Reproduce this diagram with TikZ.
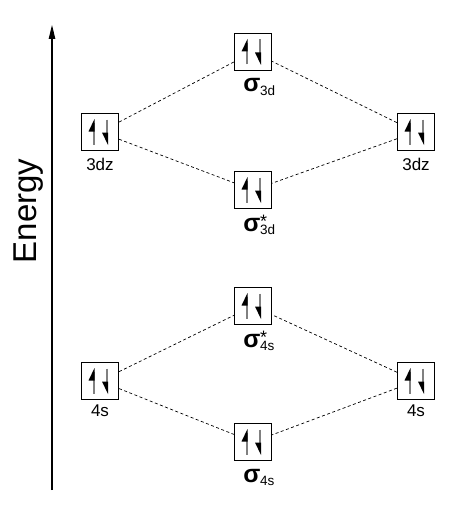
\documentclass[tikz,border=0pt]{standalone}
\usepackage{fontspec}
\setmainfont{Liberation Sans}
\usetikzlibrary{arrows.meta}
\newcommand\molab[2]{{\fontsize{25}{25}\selectfont\bfseries σ}\rlap{\hspace{-0.5pt}\raisebox{-3pt}{\fontsize{13.5}{13.5}\selectfont #1}}\rlap{\hspace{-0.5pt}\raisebox{3.5pt}{\fontsize{18}{18}\selectfont #2}}}
\tikzset{
  orbbox/.style={draw, line width=1.2pt, minimum width=37pt, minimum height=37pt, inner sep=0pt},
  spin/.style={draw=black!50, line width=2pt},
  lvl/.style={dash pattern=on 3pt off 2.5pt, line width=0.7pt},
  ao/.style={font=\fontsize{17}{17}\selectfont, inner sep=0pt},
  mo/.style={anchor=base, inner sep=0pt},
  orbital/.pic={
    \node[orbbox] (-b) at (0,0) {};
    \draw[spin] (-6.5,12.5) -- (-6.5,-9);
    \fill (-5.5,-13) -- (-5.5,-0.5) -- (-11.5,-0.5) -- cycle;
    \draw[spin] (7,-12.5) -- (7,9);
    \fill (8,13) -- (8,0.5) -- (2,0.5) -- cycle;
  }
}
\begin{document}
\begin{tikzpicture}[x=1pt,y=-1pt]
\useasboundingbox (0,0) rectangle (476,519);
% energy axis
\coordinate (axbot) at (52,490);
\coordinate (axtop) at (52,25);
\draw[line width=1.1pt, -{Triangle[length=14pt,width=6.5pt]}] (axbot) -- (axtop);
\node[rotate=90, font=\fontsize{33}{33}\selectfont] (en) at (29,211) {Energy};
% orbitals
\pic (L3) at (100,132) {orbital};
\pic (R3) at (416,132) {orbital};
\pic (S3) at (253,52) {orbital};
\pic (A3) at (253,190) {orbital};
\pic (A4) at (253,306) {orbital};
\pic (S4) at (253,442) {orbital};
\pic (L4) at (100,381) {orbital};
\pic (R4) at (416,381) {orbital};
% labels
\node[ao] (L3l) at (100,164) {3dz};
\node[ao] (R3l) at (416,164) {3dz};
\node[ao] (L4l) at (100,411) {4s};
\node[ao] (R4l) at (416,411) {4s};
\node[mo] (S3l) at (252,92) {\molab{3d}{}};
\node[mo] (A3l) at (252,231) {\molab{3d}{*}};
\node[mo] (A4l) at (252,347) {\molab{4s}{*}};
\node[mo] (S4l) at (252,482) {\molab{4s}{}};
% correlation lines
\draw[lvl] (L3-b) -- (S3-b);
\draw[lvl] (L3-b) -- (A3-b);
\draw[lvl] (R3-b) -- (S3-b);
\draw[lvl] (R3-b) -- (A3-b);
\draw[lvl] (L4-b) -- (A4-b);
\draw[lvl] (L4-b) -- (S4-b);
\draw[lvl] (R4-b) -- (A4-b);
\draw[lvl] (R4-b) -- (S4-b);
\end{tikzpicture}
\end{document}
